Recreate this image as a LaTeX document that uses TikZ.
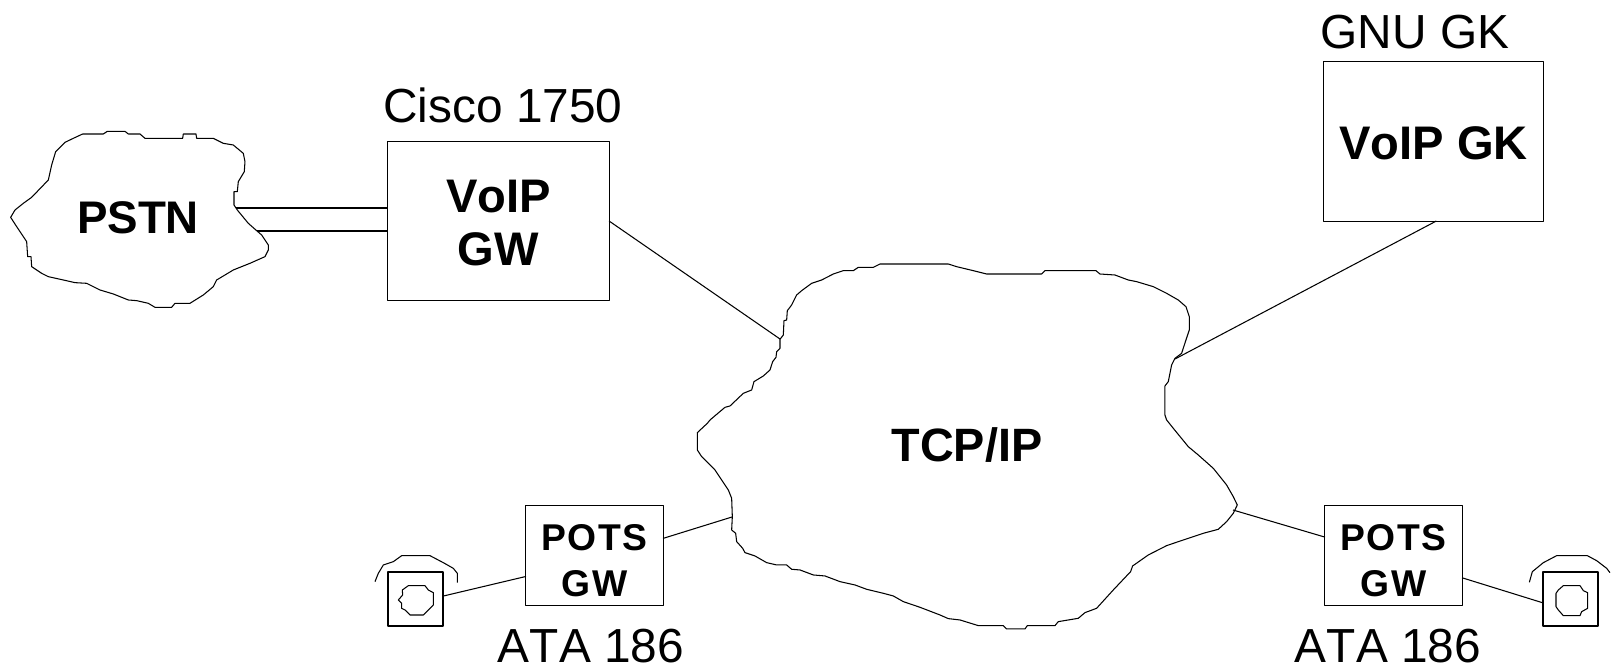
\documentclass[tikz,border=0pt]{standalone}
\usepackage{fontspec}
\setmainfont[Kerning=Off]{Liberation Sans}
\usepackage{tikz}
\tikzset{
  wire/.style={line width=.3pt,line join=round},
  unitbox/.style={wire,draw,inner sep=0pt,outer sep=0pt,align=center,font=\fontsize{13.4}{15.1}\selectfont\bfseries},
  potsbox/.style={unitbox,minimum width=1.37cm,minimum height=.99cm,font=\fontsize{10.6}{13.1}\selectfont\bfseries\addfontfeature{LetterSpace=4}},
  phonebox/.style={wire,draw,inner sep=0pt,outer sep=0pt,minimum width=.55cm,minimum height=.54cm},
  cloudname/.style={inner sep=0pt,font=\fontsize{13}{15.1}\selectfont\bfseries},
  devname/.style={inner sep=0pt,font=\fontsize{13.6}{16}\selectfont}
}
\begin{document}
\begin{tikzpicture}[x=.01cm,y=-.01cm]
  \useasboundingbox (0,0) rectangle (1611,667);
  % clouds
  \begin{scope}[shift={(0,110)},scale=.3333]
    \draw[wire] (32,322)--(45,300)--(70,280)--(95,262)--(145,210)--(155,165)--(167,125)--(195,97)--(220,85)--(248,72)--(310,72)--(322,64)--(375,64)--(385,72)--(420,72)--(435,85)--(548,85)--(550,72)--(588,72)--(590,85)--(640,85)--(670,100)--(700,105)--(730,130)--(735,155)--(733,185)--(715,215)--(712,245)--(702,245)--(702,285)--(712,300)--(745,340)--(770,362)--(785,375)--(805,405)--(805,420)--(795,440)--(750,460)--(700,480)--(650,510)--(640,530)--(610,555)--(570,580)--(525,580)--(515,592)--(465,592)--(445,580)--(410,572)--(385,570)--(340,552)--(300,540)--(260,520)--(225,518)--(190,510)--(145,500)--(125,490)--(95,470)--(93,440)--(83,440)--(80,395)--(50,350)--cycle;
  \end{scope}
  \begin{scope}[shift={(680,250)},scale=.3333]
    \draw[wire] (805,42)--(600,42)--(580,52)--(535,52)--(520,62)--(490,62)--(460,72)--(425,90)--(395,100)--(365,122)--(350,135)--(335,165)--(322,182)--(320,210)--(312,212)--(310,255)--(300,268)--(300,295)--(290,305)--(288,322)--(278,335)--(270,360)--(250,378)--(222,395)--(215,420)--(190,430)--(150,468)--(135,472)--(90,510)--(82,520)--(52,548)--(52,600)--(65,620)--(105,660)--(125,690)--(145,720)--(155,745)--(157,800)--(155,840)--(167,850)--(170,875)--(188,895)--(195,908)--(225,918)--(260,938)--(290,945)--(320,945)--(335,958)--(360,960)--(400,975)--(435,978)--(480,995)--(525,1005)--(560,1018)--(610,1030)--(640,1038)--(670,1055)--(720,1072)--(780,1095)--(805,1106)--(840,1110)--(895,1127)--(970,1127)--(980,1137)--(1035,1137)--(1042,1127)--(1125,1127)--(1135,1115)--(1195,1105)--(1215,1088)--(1250,1075)--(1300,1020)--(1352,965)--(1358,948)--(1405,915)--(1460,887)--(1510,870)--(1570,850)--(1615,838)--(1640,815)--(1660,790)--(1672,765)--(1660,740)--(1640,705)--(1600,655)--(1555,615)--(1525,590)--(1480,535)--(1460,510)--(1455,495)--(1455,408)--(1465,395)--(1475,345)--(1485,325)--(1505,310)--(1518,270)--(1528,240)--(1528,200)--(1518,170)--(1495,150)--(1460,130)--(1420,110)--(1370,95)--(1345,90)--(1305,75)--(1260,72)--(1248,62)--(1095,62)--(1085,72)--(920,72)--(880,62)--(830,50)--cycle;
  \end{scope}
  \node[cloudname] (pstn) at (138,218) {PSTN};
  \node[cloudname,font=\fontsize{13.3}{15.1}\selectfont\bfseries] (tcpip) at (967,445) {TCP/IP};
  % free ends on the cloud outlines
  \coordinate (pstna) at (236,208);
  \coordinate (pstnb) at (257,231);
  \coordinate (tcpgw) at (780,339);
  \coordinate (tcpgk) at (1175,359);
  \coordinate (tcpl) at (732,517);
  \coordinate (tcpr) at (1233,510);
  % units
  \node[unitbox,minimum width=2.21cm,minimum height=1.58cm] (gw) at (498.5,221) {\rule{0pt}{10.2pt}VoIP\\GW};
  \node[unitbox,minimum width=2.19cm,minimum height=1.59cm] (gk) at (1433.5,141.5) {\rule{0pt}{10.5pt}VoIP GK};
  \node[potsbox] (potsl) at (594.5,555.5) {\rule{0pt}{10.4pt}POTS\\GW};
  \node[potsbox] (potsr) at (1393.5,555.5) {\rule{0pt}{10.4pt}POTS\\GW};
  \node[phonebox] (phonel) at (415.5,599) {};
  \node[phonebox] (phoner) at (1570.5,599) {};
  % device names
  \node[devname] (cisco) at (503,105) {Cisco 1750};
  \node[devname] (gnugk) at (1415,32) {GNU GK};
  \node[devname] (atal) at (591,646) {ATA 186};
  \node[devname] (atar) at (1388,646) {ATA 186};
  % left phone
  \begin{scope}[shift={(360,540)},scale=.3333]
    \draw[wire] (45,125)--(55,100)--(70,75)--(100,65)--(125,47)--(210,47)--(250,68)--(280,85)--(292,100)--(292,128);
    \draw[wire] (145,137)--(195,137)--(205,150)--(220,158)--(220,195)--(210,205)--(190,225)--(150,225)--(135,210)--(125,205)--(125,190)--(115,180)--(128,165)--(127,150)--cycle;
  \end{scope}
  % right phone
  \begin{scope}[shift={(1500,540)},scale=.3333]
    \draw[wire] (88,127)--(97,95)--(130,68)--(170,47)--(262,47)--(290,62)--(320,85)--(330,98);
    \draw[wire] (190,137)--(240,137)--(250,152)--(263,158)--(263,205)--(245,215)--(240,227)--(190,227)--(175,210)--(168,200)--(168,160)--(175,150)--cycle;
  \end{scope}
  % connectors
  \draw[wire] (pstna)--(pstna-|gw.west);
  \draw[wire] (pstnb)--(pstnb-|gw.west);
  \draw[wire] (gw.east)--(tcpgw);
  \draw[wire] (gk.-88)--(tcpgk);
  \draw[wire] (potsl.14.6)--(tcpl);
  \draw[wire] (potsr.165.7)--(tcpr);
  \draw[wire] (phonel.6)--(potsl.197.7);
  \draw[wire] (potsr.-18)--(phoner.188);
\end{tikzpicture}
\end{document}
